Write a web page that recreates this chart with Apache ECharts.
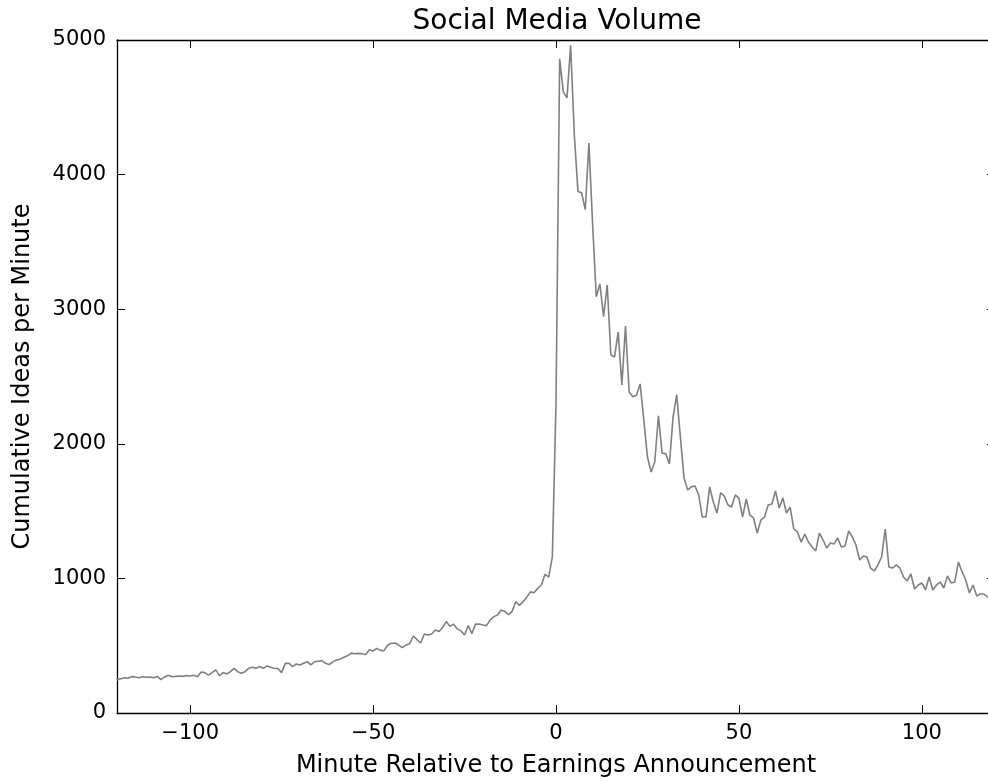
<!DOCTYPE html>
<html>
<head>
<meta charset="utf-8">
<script src="https://cdn.jsdelivr.net/npm/echarts@6/dist/echarts.min.js"></script>
<style>html,body{margin:0;padding:0;background:#fff;}#c{width:988px;height:784px;}</style>
</head>
<body>
<div id="c"></div>
<script>
// ---- data ----
var firstMinute = -120;
var volumeBefore = [
  245,255,262,258,270,268,262,270,265,268,
  262,272,248,268,280,270,272,275,272,278,
  275,280,270,305,300,282,300,320,278,300,
  290,307,332,307,295,307,332,340,332,345,
  332,350,340,332,330,300,369,370,345,364,
  357,369,381,357,381,385,389,369,360,380,
  394,400,414,425,445,440,443,440,435,470,
  460,480,465,463,505,518,520,505,485,505,
  515,572,545,520,587,580,587,617,605,635,
  679,645,660,625,610,580,650,590,660,661,
  654,649,691,716,728,765,755,730,755,827,
  800,827,860,900,894,926,951,1030,1010,1160
];
var volumeAfter = [
  2300,
  4860,4615,4570,4960,4300,3875,3865,3740,4235,3636,
  3093,3187,2945,3180,2660,2645,2830,2437,2875,2385,
  2350,2360,2445,2177,1902,1790,1865,2207,1932,1925,
  1850,2200,2363,2050,1745,1657,1680,1687,1620,1456,
  1456,1680,1568,1486,1635,1612,1545,1530,1620,1597,
  1456,1590,1471,1449,1337,1434,1456,1545,1553,1650,
  1523,1597,1486,1530,1367,1345,1270,1330,1270,1233,
  1204,1337,1285,1226,1263,1256,1300,1233,1241,1352,
  1308,1248,1137,1167,1159,1077,1055,1100,1159,1367,
  1085,1077,1100,1077,1010,981,1033,921,951,966,
  914,1010,914,951,973,929,1018,966,973,1122,
  1048,988,892,951,869,884,884,862,850,845
];
var xTicks = [-100, -50, 0, 50, 100];
var yTicks = [0, 1000, 2000, 3000, 4000, 5000];
var titleText = 'Social Media Volume';
var xName = 'Minute Relative to Earnings Announcement';
var yName = 'Cumulative Ideas per Minute';

var volume = volumeBefore.concat(volumeAfter);
var points = volume.map(function (v, i) { return [firstMinute + i, v]; });

var FONT = 'DejaVu Sans';
var chart = echarts.init(document.getElementById('c'));
function line(c) { return { show: true, onZero: false, lineStyle: { color: c, width: 1.3 } }; }
var tickStyle = { show: true, inside: true, length: 8, lineStyle: { color: '#000', width: 1 } };
function fmt(v) { return String(v).replace('-', '\u2212'); }

chart.setOption({
  animation: false,
  backgroundColor: '#fff',
  title: {
    text: titleText, left: 552, top: 3, textAlign: 'center',
    textStyle: { fontFamily: FONT, fontSize: 28, fontWeight: 'normal', color: '#000' }
  },
  grid: { left: 117, top: 40, width: 878, height: 673, containLabel: false, outerBoundsMode: 'none' },
  xAxis: [{
    type: 'value', min: -120, max: 120, position: 'bottom',
    name: xName, nameLocation: 'middle', nameGap: 41,
    nameTextStyle: { fontFamily: FONT, fontSize: 24, color: '#000' },
    axisLine: line('#000'),
    axisTick: Object.assign({ customValues: xTicks }, tickStyle),
    axisLabel: { customValues: xTicks, formatter: fmt, margin: 10, fontFamily: FONT, fontSize: 21, color: '#000' },
    splitLine: { show: false }
  }, {
    type: 'value', min: -120, max: 120, position: 'top',
    axisLine: line('#000'),
    axisTick: Object.assign({ customValues: xTicks }, tickStyle),
    axisLabel: { show: false },
    splitLine: { show: false }
  }],
  yAxis: [{
    type: 'value', min: 0, max: 5000, interval: 1000, position: 'left',
    name: yName, nameLocation: 'middle', nameGap: 82, nameRotate: 90,
    nameTextStyle: { fontFamily: FONT, fontSize: 24, color: '#000' },
    axisLine: line('#000'),
    axisTick: Object.assign({ customValues: yTicks }, tickStyle),
    axisLabel: { customValues: yTicks, formatter: function (v) { return String(v); }, margin: 11, fontFamily: FONT, fontSize: 21, color: '#000' },
    splitLine: { show: false }
  }, {
    type: 'value', min: 0, max: 5000, interval: 1000, position: 'right',
    axisLine: { show: false, onZero: false },
    axisTick: Object.assign({ customValues: yTicks }, tickStyle),
    axisLabel: { show: false },
    splitLine: { show: false }
  }],
  series: [{
    type: 'line',
    data: points,
    showSymbol: false,
    clip: true,
    lineStyle: { color: '#808080', width: 1.6 },
    emphasis: { disabled: true }
  }]
});
</script>
</body>
</html>
